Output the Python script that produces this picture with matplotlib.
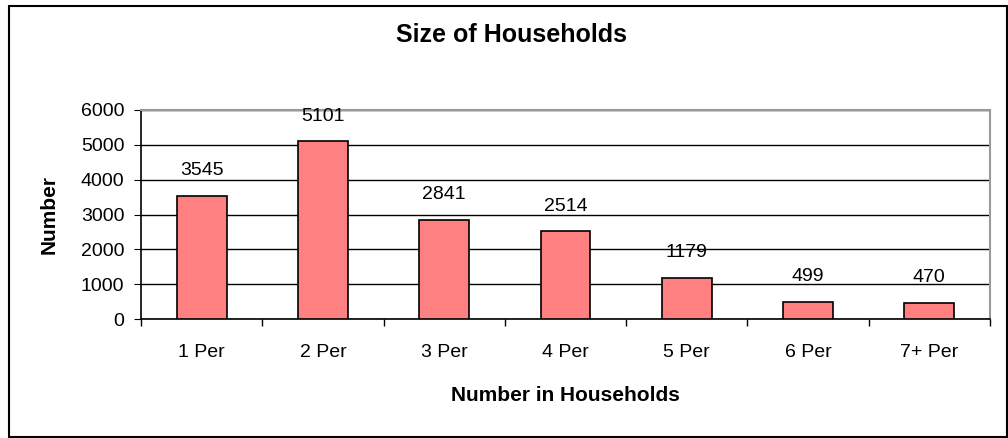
import matplotlib.pyplot as plt
from matplotlib.patches import Rectangle
import numpy as np

categories = ["1 Per", "2 Per", "3 Per", "4 Per", "5 Per", "6 Per", "7+ Per"]
counts = [3545, 5101, 2841, 2514, 1179, 499, 470]
y_ticks = [0, 1000, 2000, 3000, 4000, 5000, 6000]

W, H = 1008, 438
plt.rcParams["font.family"] = ["Liberation Sans", "DejaVu Sans"]

fig = plt.figure(figsize=(W / 100, H / 100), dpi=100)
ax = fig.add_axes([141 / W, (H - 319) / H, (990 - 141) / W, (319 - 110) / H])

# outer chart border
fig.patches.append(Rectangle((9 / W, 1 / H), 998 / W, 431 / H, transform=fig.transFigure,
                             fill=False, edgecolor="black", linewidth=1.5))

x = np.arange(len(categories))
ax.bar(x, counts, width=0.41, color="#FF8080", edgecolor="black", linewidth=1.2, zorder=3)
for xi, v in zip(x, counts):
    ax.annotate(str(v), (xi, v), xytext=(0, 12), textcoords="offset points",
                ha="center", va="bottom", fontsize=14)

ax.set_xlim(-0.5, len(categories) - 0.5)
ax.set_ylim(0, 6000)
ax.set_yticks(y_ticks)
ax.yaxis.grid(True, color="black", linewidth=1.0, zorder=0)
ax.set_axisbelow(True)

ax.set_xticks(x)
ax.set_xticklabels(categories, fontsize=14)
ax.set_xticks(np.arange(len(categories) + 1) - 0.5, minor=True)
ax.tick_params(axis="x", which="major", length=0, pad=18)
ax.tick_params(axis="x", which="minor", length=5, direction="out", width=1)
ax.tick_params(axis="y", length=5, direction="out", labelsize=14, pad=7)

for s in ["top", "right"]:
    ax.spines[s].set_color("#999999")
    ax.spines[s].set_linewidth(1.5)
ax.spines["left"].set_linewidth(1.2)
ax.spines["bottom"].set_linewidth(1.2)

fig.text(511 / W, (H - 35) / H, "Size of Households", fontsize=18, fontweight="bold",
         ha="center", va="center")
ax.set_xlabel("Number in Households", fontsize=15, fontweight="bold", labelpad=18)
ax.set_ylabel("Number", fontsize=15, fontweight="bold", labelpad=16)

fig.savefig("out.png", dpi=100)
